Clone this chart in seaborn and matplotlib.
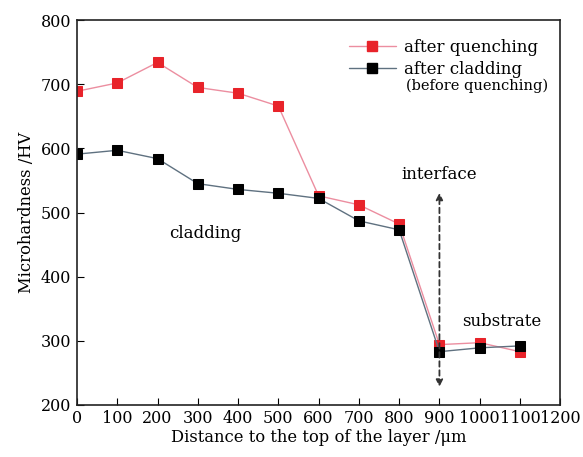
import numpy as np
import pandas as pd
import seaborn as sns
import matplotlib.pyplot as plt
from matplotlib.lines import Line2D

distance = [0, 100, 200, 300, 400, 500, 600, 700, 800, 900, 1000, 1100]
after_quenching = [689, 702, 734, 695, 686, 666, 526, 512, 482, 294, 297, 283]
after_cladding = [591, 597, 584, 545, 536, 530, 522, 487, 473, 283, 289, 292]

sns.set_style('ticks')
plt.rcParams['font.family'] = ['DejaVu Serif']
plt.rcParams['text.color'] = 'black'
plt.rcParams['axes.labelcolor'] = 'black'
plt.rcParams['xtick.color'] = 'black'
plt.rcParams['ytick.color'] = 'black'

fig = plt.figure(figsize=(5.83, 4.57), dpi=100)
ax = fig.add_axes([0.132, 0.114, 0.829, 0.842])

df = pd.DataFrame({'x': distance, 'q': after_quenching, 'c': after_cladding})

red_line = '#ec8ea0'
red_mk = '#e8232a'
blk_line = '#5f7180'

sns.lineplot(data=df, x='x', y='c', ax=ax, color=blk_line, lw=1,
             marker='s', markersize=6.5, markerfacecolor='black',
             markeredgecolor='black', zorder=2)
sns.lineplot(data=df, x='x', y='q', ax=ax, color=red_line, lw=1,
             marker='s', markersize=6.5, markerfacecolor=red_mk,
             markeredgecolor=red_mk, zorder=1)

ax.set_xlim(0, 1200)
ax.set_ylim(200, 800)
ax.set_xticks(range(0, 1201, 100))
ax.set_yticks(range(200, 801, 100))
ax.tick_params(direction='in', length=5, labelsize=11.5, pad=4,
               top=False, right=False)
for s in ax.spines.values():
    s.set_visible(True)
    s.set_linewidth(1.2)
    s.set_color('#222222')
ax.set_xlabel('Distance to the top of the layer /\u03bcm', fontsize=11.8, labelpad=1)
ax.set_ylabel('Microhardness /HV', fontsize=11.8, labelpad=4)

# interface arrow
ax.annotate('', xy=(900, 535), xytext=(900, 224),
            arrowprops=dict(arrowstyle='<|-|>', ls=(0, (3, 2)), lw=1.3,
                            color='#333333', mutation_scale=10))
ax.text(900, 560, 'interface', ha='center', va='center', fontsize=12)
ax.text(318, 468, 'cladding', ha='center', va='center', fontsize=12)
ax.text(1055, 330, 'substrate', ha='center', va='center', fontsize=12)

handles = [Line2D([], [], color=red_line, lw=1, marker='s', markersize=6.5,
                  markerfacecolor=red_mk, markeredgecolor=red_mk),
           Line2D([], [], color=blk_line, lw=1, marker='s', markersize=6.5,
                  markerfacecolor='black', markeredgecolor='black')]
ax.legend(handles, ['after quenching', 'after cladding'], loc='upper right',
          bbox_to_anchor=(0.985, 0.99), frameon=False, fontsize=12,
          handlelength=2.8, handletextpad=0.5, labelspacing=0.3)
ax.text(0.975, 0.83, '(before quenching)', transform=ax.transAxes,
        ha='right', va='center', fontsize=10.5)

fig.savefig('out.png', dpi=100)
